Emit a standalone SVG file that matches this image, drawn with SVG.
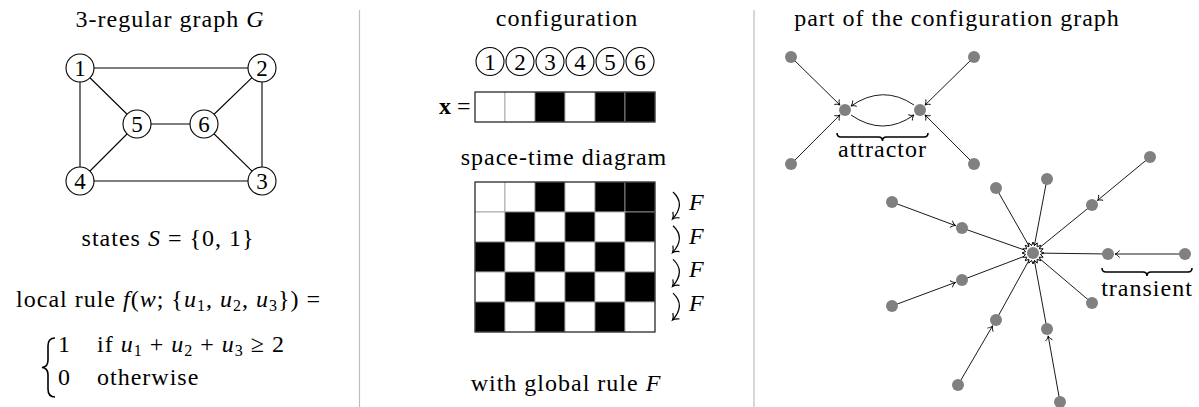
<svg xmlns="http://www.w3.org/2000/svg" width="1199" height="407" viewBox="0 0 1199 407">
<style>
text{font-family:"Liberation Serif","DejaVu Serif",serif;font-size:24px;fill:#000}
.t{letter-spacing:1px}
.c{text-anchor:middle}
.i{font-style:italic}
.d{font-size:23px}
.sub{font-size:16px}
.edge{stroke:#000;stroke-width:1.1;fill:none}
.node{fill:#fff;stroke:#000;stroke-width:1.1}
.sep{stroke:#bdbdbd;stroke-width:1.2}
.dot{fill:#808080}
.arr{stroke:#000;stroke-width:0.9;fill:none;marker-end:url(#to)}
.ln{stroke:#000;stroke-width:0.9;fill:none}
.cell{stroke:#999;stroke-width:0.8}
.b{fill:#000}.w{fill:#fff}
.brace{stroke:#000;stroke-width:1.6;fill:none}
</style>
<defs>
<marker id="to" viewBox="-6 -5 8 10" markerWidth="8" markerHeight="10" refX="0" refY="0" orient="auto" markerUnits="userSpaceOnUse">
<path d="M-4.5,-3.5 C-3,-1.2 -1,-0.3 0,0 C-1,0.3 -3,1.2 -4.5,3.5" fill="none" stroke="#000" stroke-width="0.9"/>
</marker>
<marker id="toF" viewBox="-7 -6 9 12" markerWidth="9" markerHeight="12" refX="0" refY="0" orient="auto" markerUnits="userSpaceOnUse">
<path d="M-5.5,-4.5 C-3.5,-1.5 -1.2,-0.4 0,0 C-1.2,0.4 -3.5,1.5 -5.5,4.5" fill="none" stroke="#000" stroke-width="1.2"/>
</marker>
</defs>

<!-- separators -->
<line class="sep" x1="359.5" y1="10" x2="359.5" y2="407"/>
<line class="sep" x1="754" y1="10" x2="754" y2="407"/>

<!-- ========== LEFT PANEL ========== -->
<text class="c t" x="170" y="27">3-regular graph <tspan class="i">G</tspan></text>

<g id="graph-edges">
<line class="edge" x1="80" y1="68" x2="262" y2="68"/>
<line class="edge" x1="80" y1="68" x2="80" y2="181"/>
<line class="edge" x1="80" y1="68" x2="137" y2="124"/>
<line class="edge" x1="262" y1="68" x2="204" y2="124"/>
<line class="edge" x1="262" y1="68" x2="262" y2="181"/>
<line class="edge" x1="137" y1="124" x2="204" y2="124"/>
<line class="edge" x1="80" y1="181" x2="137" y2="124"/>
<line class="edge" x1="204" y1="124" x2="262" y2="181"/>
<line class="edge" x1="80" y1="181" x2="262" y2="181"/>
</g>
<g id="g-node-1"><circle class="node" cx="80" cy="68" r="14"/><text class="c d" x="80" y="76">1</text></g>
<g id="g-node-2"><circle class="node" cx="262" cy="68" r="14"/><text class="c d" x="262" y="76">2</text></g>
<g id="g-node-3"><circle class="node" cx="262" cy="181" r="14"/><text class="c d" x="262" y="189">3</text></g>
<g id="g-node-4"><circle class="node" cx="80" cy="181" r="14"/><text class="c d" x="80" y="189">4</text></g>
<g id="g-node-5"><circle class="node" cx="137" cy="124" r="14"/><text class="c d" x="137" y="132">5</text></g>
<g id="g-node-6"><circle class="node" cx="204" cy="124" r="14"/><text class="c d" x="204" y="132">6</text></g>

<text class="c t" x="168" y="246">states <tspan class="i">S</tspan> = {0, 1}</text>
<text class="c t" x="168.5" y="307">local rule <tspan class="i">f</tspan>(<tspan class="i">w</tspan>; {<tspan class="i">u</tspan><tspan class="sub" dy="4">1</tspan><tspan dy="-4">, </tspan><tspan class="i">u</tspan><tspan class="sub" dy="4">2</tspan><tspan dy="-4">, </tspan><tspan class="i">u</tspan><tspan class="sub" dy="4">3</tspan><tspan dy="-4">}) =</tspan></text>
<path class="brace" d="M55,338 Q48,338 48,346 L48,360 Q48,367 42,367.5 Q48,368 48,375 L48,389 Q48,397 55,397" stroke-width="1.9"/>
<text x="58" y="352">1</text>
<text class="t" x="97" y="352">if <tspan class="i">u</tspan><tspan class="sub" dy="4">1</tspan><tspan dy="-4"> + </tspan><tspan class="i">u</tspan><tspan class="sub" dy="4">2</tspan><tspan dy="-4"> + </tspan><tspan class="i">u</tspan><tspan class="sub" dy="4">3</tspan><tspan dy="-4"> ≥ 2</tspan></text>
<text x="58" y="385">0</text>
<text class="t" x="97" y="385">otherwise</text>

<!-- ========== MIDDLE PANEL ========== -->
<text class="c t" x="567" y="26">configuration</text>
<g id="cfg-labels">
<circle class="node" cx="490" cy="61.5" r="14"/><text class="c d" x="490" y="69.5">1</text>
<circle class="node" cx="520" cy="61.5" r="14"/><text class="c d" x="520" y="69.5">2</text>
<circle class="node" cx="550" cy="61.5" r="14"/><text class="c d" x="550" y="69.5">3</text>
<circle class="node" cx="580" cy="61.5" r="14"/><text class="c d" x="580" y="69.5">4</text>
<circle class="node" cx="610" cy="61.5" r="14"/><text class="c d" x="610" y="69.5">5</text>
<circle class="node" cx="640" cy="61.5" r="14"/><text class="c d" x="640" y="69.5">6</text>
</g>
<text x="439" y="114"><tspan font-weight="bold">x</tspan> =</text>
<g id="cfg-x">
<rect class="cell w" x="475" y="92" width="30" height="30"/>
<rect class="cell w" x="505" y="92" width="30" height="30"/>
<rect class="cell b" x="535" y="92" width="30" height="30"/>
<rect class="cell w" x="565" y="92" width="30" height="30"/>
<rect class="cell b" x="595" y="92" width="30" height="30"/>
<rect class="cell b" x="625" y="92" width="30" height="30"/>
<rect x="475" y="92" width="180" height="30" fill="none" stroke="#222" stroke-width="1.1"/>
</g>

<text class="c t" x="564" y="165">space-time diagram</text>
<g id="spacetime">
<rect class="cell w" x="475" y="182" width="30" height="30"/>
<rect class="cell w" x="505" y="182" width="30" height="30"/>
<rect class="cell b" x="535" y="182" width="30" height="30"/>
<rect class="cell w" x="565" y="182" width="30" height="30"/>
<rect class="cell b" x="595" y="182" width="30" height="30"/>
<rect class="cell b" x="625" y="182" width="30" height="30"/>

<rect class="cell w" x="475" y="212" width="30" height="30"/>
<rect class="cell b" x="505" y="212" width="30" height="30"/>
<rect class="cell w" x="535" y="212" width="30" height="30"/>
<rect class="cell b" x="565" y="212" width="30" height="30"/>
<rect class="cell w" x="595" y="212" width="30" height="30"/>
<rect class="cell b" x="625" y="212" width="30" height="30"/>

<rect class="cell b" x="475" y="242" width="30" height="30"/>
<rect class="cell w" x="505" y="242" width="30" height="30"/>
<rect class="cell b" x="535" y="242" width="30" height="30"/>
<rect class="cell w" x="565" y="242" width="30" height="30"/>
<rect class="cell b" x="595" y="242" width="30" height="30"/>
<rect class="cell w" x="625" y="242" width="30" height="30"/>

<rect class="cell w" x="475" y="272" width="30" height="30"/>
<rect class="cell b" x="505" y="272" width="30" height="30"/>
<rect class="cell w" x="535" y="272" width="30" height="30"/>
<rect class="cell b" x="565" y="272" width="30" height="30"/>
<rect class="cell w" x="595" y="272" width="30" height="30"/>
<rect class="cell b" x="625" y="272" width="30" height="30"/>

<rect class="cell b" x="475" y="302" width="30" height="30"/>
<rect class="cell w" x="505" y="302" width="30" height="30"/>
<rect class="cell b" x="535" y="302" width="30" height="30"/>
<rect class="cell w" x="565" y="302" width="30" height="30"/>
<rect class="cell b" x="595" y="302" width="30" height="30"/>
<rect class="cell w" x="625" y="302" width="30" height="30"/>
<rect x="475" y="182" width="180" height="150" fill="none" stroke="#222" stroke-width="1.1"/>
</g>
<g id="F-arrows">
<path d="M673,192 Q686,204 672.5,219" fill="none" stroke="#000" stroke-width="1.2" marker-end="url(#toF)"/>
<path d="M673,225.7 Q686,237.7 672.5,252.7" fill="none" stroke="#000" stroke-width="1.2" marker-end="url(#toF)"/>
<path d="M673,259.4 Q686,271.4 672.5,286.4" fill="none" stroke="#000" stroke-width="1.2" marker-end="url(#toF)"/>
<path d="M673,293.1 Q686,305.1 672.5,320.1" fill="none" stroke="#000" stroke-width="1.2" marker-end="url(#toF)"/>
<text class="i" x="689" y="210">F</text>
<text class="i" x="689" y="243.7">F</text>
<text class="i" x="689" y="277.4">F</text>
<text class="i" x="689" y="311.1">F</text>
</g>
<text class="c t" x="566" y="391">with global rule <tspan class="i">F</tspan></text>

<!-- ========== RIGHT PANEL ========== -->
<text class="c t" x="957" y="26">part of the configuration graph</text>

<g id="connectors">
<!-- attractor -->
<line class="arr" x1="791" y1="57" x2="840" y2="105.1"/>
<line class="arr" x1="974" y1="57" x2="925" y2="105.1"/>
<line class="arr" x1="791" y1="164" x2="840" y2="114.9"/>
<line class="arr" x1="974" y1="164" x2="925" y2="114.9"/>
<path class="arr" d="M914,105 Q883,84 851,106"/>
<path class="arr" d="M851,115 Q883,137 914,115"/>
<!-- star -->
<line class="ln" x1="996" y1="188" x2="1033" y2="253"/>
<line class="ln" x1="1047" y1="179" x2="1033" y2="253"/>
<line class="ln" x1="1092" y1="303" x2="1033" y2="253"/>
<line class="ln" x1="962" y1="228" x2="1033" y2="253"/>
<line class="ln" x1="1092" y1="205" x2="1033" y2="253"/>
<line class="ln" x1="1108" y1="254" x2="1033" y2="253"/>
<line class="ln" x1="962" y1="280" x2="1033" y2="253"/>
<line class="ln" x1="996" y1="320" x2="1033" y2="253"/>
<line class="ln" x1="1047" y1="329" x2="1033" y2="253"/>
<line class="arr" x1="892" y1="202" x2="955.4" y2="225.6"/>
<line class="arr" x1="1150" y1="157" x2="1097.4" y2="200.5"/>
<line class="arr" x1="1185" y1="254" x2="1115" y2="254"/>
<line class="arr" x1="892" y1="306" x2="955.4" y2="282.4"/>
<line class="arr" x1="958" y1="385" x2="992.5" y2="326"/>
<line class="arr" x1="1060" y1="402" x2="1048.2" y2="335.9"/>
</g>

<g id="attractor-nodes">
<circle class="dot" cx="845" cy="110" r="6"/>
<circle class="dot" cx="920" cy="110" r="6"/>
<circle class="dot" cx="791" cy="57" r="6"/>
<circle class="dot" cx="974" cy="57" r="6"/>
<circle class="dot" cx="791" cy="164" r="6"/>
<circle class="dot" cx="974" cy="164" r="6"/>
</g>
<path class="brace" d="M837,133 Q837,137 841,137 L878.5,137 Q882.5,137 882.5,141 Q882.5,137 886.5,137 L924,137 Q928,137 928,133"/>
<text class="c t" x="882.5" y="157">attractor</text>

<g id="fixed-point">
<polygon transform="translate(1033,253)" fill="#fff" stroke="#000" stroke-width="1" points="11,0 7.36,1.46 10.16,4.21 6.24,4.17 7.78,7.78 4.17,6.24 4.21,10.16 1.46,7.36 0,11 -1.46,7.36 -4.21,10.16 -4.17,6.24 -7.78,7.78 -6.24,4.17 -10.16,4.21 -7.36,1.46 -11,0 -7.36,-1.46 -10.16,-4.21 -6.24,-4.17 -7.78,-7.78 -4.17,-6.24 -4.21,-10.16 -1.46,-7.36 0,-11 1.46,-7.36 4.21,-10.16 4.17,-6.24 7.78,-7.78 6.24,-4.17 10.16,-4.21 7.36,-1.46"/>
<circle class="dot" cx="1033" cy="253" r="6"/>
</g>
<g id="tree-nodes">
<circle class="dot" cx="996" cy="188" r="6"/>
<circle class="dot" cx="1047" cy="179" r="6"/>
<circle class="dot" cx="1092" cy="303" r="6"/>
<circle class="dot" cx="962" cy="228" r="6"/>
<circle class="dot" cx="1092" cy="205" r="6"/>
<circle class="dot" cx="1108" cy="254" r="6"/>
<circle class="dot" cx="962" cy="280" r="6"/>
<circle class="dot" cx="996" cy="320" r="6"/>
<circle class="dot" cx="1047" cy="329" r="6"/>
<circle class="dot" cx="892" cy="202" r="6"/>
<circle class="dot" cx="1150" cy="157" r="6"/>
<circle class="dot" cx="1185" cy="254" r="6"/>
<circle class="dot" cx="892" cy="306" r="6"/>
<circle class="dot" cx="958" cy="385" r="6"/>
<circle class="dot" cx="1060" cy="402" r="6"/>
</g>
<path class="brace" d="M1102,268 Q1102,272 1106,272 L1143,272 Q1147,272 1147,276 Q1147,272 1151,272 L1188,272 Q1192,272 1192,268"/>
<text class="c t" x="1147" y="296">transient</text>
</svg>
